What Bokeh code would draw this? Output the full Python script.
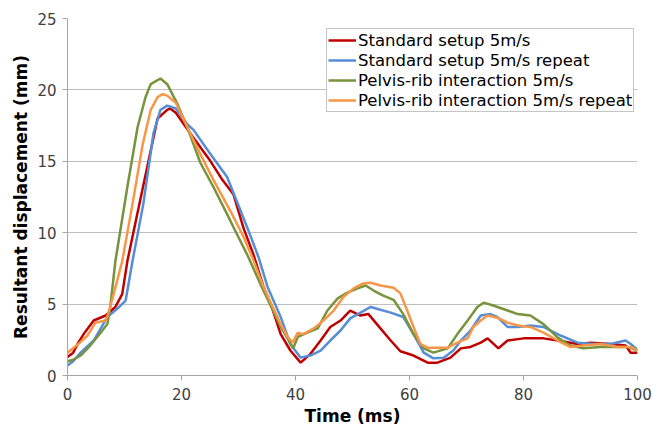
from bokeh.plotting import figure
from bokeh.models import Range1d, Legend, LegendItem, FixedTicker
from bokeh.embed import file_html
from bokeh.resources import INLINE

# ---- data ----
red_t = [0, 1, 1.9, 3, 4.6, 6.7, 8.4, 9.6, 10.5, 12.5, 14.2, 15.8, 17.5, 18, 19, 22, 25.1, 27, 29.1, 30.9,
         32.6, 34.4, 36, 37.4, 39.1, 40.9, 42.6, 44.4, 46.1, 47.9, 49.6, 51.4, 52.8, 54.9, 56.7, 58.4, 60.7,
         63.2, 64.9, 67.2, 69, 70.7, 72.5, 73.7, 75.6, 77.2, 80, 83.5, 86, 89.5, 91.8, 95.3, 97.9, 98.8, 100]
red_y = [1.3, 1.6, 2.3, 3.0, 3.85, 4.2, 4.8, 5.7, 8, 11.8, 15, 18, 18.6, 18.7, 18.4, 16.7, 15.0, 13.8, 12.7, 10.3,
         8.5, 6.2, 4.6, 2.9, 1.75, 0.9, 1.5, 2.45, 3.4, 3.85, 4.55, 4.2, 4.3, 3.3, 2.45, 1.7, 1.4,
         0.9, 0.9, 1.25, 1.9, 2.0, 2.3, 2.6, 1.9, 2.45, 2.6, 2.6, 2.45, 2.2, 2.3, 2.2, 2.1, 1.6, 1.6]

blue_t = [0, 1, 2.3, 4.6, 7, 8.8, 10.2, 11.4, 13.3, 15.1, 16.3, 17.5, 19, 21, 22.1, 25.1, 28, 30.4, 31.6, 33.5,
          35.1, 37.4, 39.1, 40.9, 42.6, 44.4, 46.1, 47.9, 49.6, 51.4, 53.2, 54.9, 56.7, 58.9, 60.7, 62.5, 64.2,
          66, 67.7, 69, 70.7, 72.5, 74.2, 75.4, 77.2, 79, 81.2, 83.5, 86.5, 89.5, 92.3, 95.3, 97.9, 98.8, 100]
blue_y = [0.7, 1.0, 1.6, 2.45, 4.1, 4.7, 5.25, 8, 12, 17, 18.6, 18.9, 18.7, 17.6, 17.2, 15.5, 13.9, 11.5, 10.3, 8.3,
          6.2, 4.1, 2.2, 1.25, 1.4, 1.75, 2.45, 3.15, 4.0, 4.4, 4.8, 4.6, 4.4, 4.1, 2.9, 1.6, 1.2,
          1.25, 1.75, 2.45, 3.15, 4.2, 4.3, 4.1, 3.4, 3.4, 3.5, 3.4, 2.8, 2.3, 2.2, 2.2, 2.45, 2.2, 1.8]

green_t = [0, 1, 2.3, 4, 5.8, 7, 7.5, 8.4, 10.5, 12.3, 13.7, 14.6, 16.3, 17.5, 19.3, 21, 23.3, 25.6, 28, 29.1,
           31.6, 34.2, 36, 37.4, 38.6, 39.6, 40.4, 42.1, 43.9, 45.6, 47.4, 49.1, 50.9, 52.3, 53.7, 55.4, 57.2,
           58.9, 60.7, 62.5, 64.2, 66.7, 68.4, 70.2, 71.9, 73, 74.7, 77.2, 79, 81.2, 83.5, 86, 88.2, 90.5, 93.5,
           96.5, 98.2, 100]
green_y = [1.0, 1.1, 1.4, 2.1, 3.0, 3.6, 4.8, 8, 13.2, 17.4, 19.5, 20.4, 20.8, 20.4, 19, 17.4, 14.9, 13.2, 11.3, 10.4,
           8.4, 6.1, 4.6, 3.4, 2.6, 1.9, 2.7, 3.0, 3.3, 4.55, 5.4, 5.8, 6.1, 6.3, 5.95, 5.6, 5.3,
           4.3, 2.9, 1.9, 1.6, 1.9, 2.9, 3.85, 4.8, 5.1, 4.9, 4.55, 4.3, 4.2, 3.6, 2.65, 2.1, 1.9, 2.0,
           2.0, 2.0, 1.75]

orange_t = [0, 1.9, 3.5, 4.9, 6.7, 7.2, 8.1, 9.6, 11.4, 13.2, 14.6, 15.8, 16.7, 17.5, 19, 21, 23.3, 25.6, 28.6,
            30.9, 32.6, 34.4, 36, 37.4, 38.6, 39.5, 40.4, 41.4, 43.2, 44.9, 46.7, 48.4, 50.2, 51.9, 53.2, 54.9,
            57.2, 58.4, 59.6, 60.7, 61.9, 63.2, 64.9, 66.7, 68.4, 70.2, 71.2, 72.5, 73.7, 75.4, 77.2, 79, 81.2,
            83.5, 86, 88.2, 90.5, 93.5, 96.5, 98.8, 100]
orange_y = [1.6, 2.2, 2.8, 3.7, 3.85, 4.4, 5.7, 8, 12, 16.2, 18.6, 19.5, 19.7, 19.6, 19.1, 17.4, 15.5, 13.7, 11.5,
            9.7, 8.1, 6.2, 4.8, 3.6, 2.7, 2.3, 3.0, 2.9, 3.3, 3.85, 4.55, 5.5, 6.1, 6.45, 6.5, 6.3,
            6.15, 5.75, 4.55, 3.4, 2.2, 1.95, 1.95, 1.95, 2.3, 2.6, 3.4, 3.85, 4.2, 4.05, 3.7, 3.5, 3.4,
            3.0, 2.45, 2.0, 2.1, 2.2, 2.0, 2.0, 1.75]

series_names = ["Standard setup 5m/s", "Standard setup 5m/s repeat",
                "Pelvis-rib interaction 5m/s", "Pelvis-rib interaction 5m/s repeat"]
x_ticks = [0, 20, 40, 60, 80, 100]
y_ticks = [0, 5, 10, 15, 20, 25]

colors = ["#C00000", "#558ED5", "#77933C", "#F79646"]
FONT = "DejaVu Sans"

p = figure(frame_width=570, frame_height=357, output_backend="svg", toolbar_location=None,
           x_range=Range1d(0, 100), y_range=Range1d(0, 25))
p.min_border_left = 67
p.min_border_right = 15
p.min_border_top = 18
p.min_border_bottom = 57
p.outline_line_color = None
p.background_fill_color = "white"
p.border_fill_color = "white"

p.xgrid.grid_line_color = None
p.ygrid.grid_line_color = "#BFBFBF"
p.ygrid.grid_line_width = 1

p.xaxis.ticker = FixedTicker(ticks=x_ticks)
p.yaxis.ticker = FixedTicker(ticks=y_ticks)
for ax in (p.xaxis, p.yaxis):
    ax.axis_line_color = "#A6A6A6"
    ax.major_tick_line_color = "#A6A6A6"
    ax.major_tick_out = 5
    ax.major_tick_in = 0
    ax.minor_tick_line_color = None
    ax.major_label_text_font = FONT
    ax.major_label_text_font_size = "15px"
    ax.major_label_text_color = "#404040"
    ax.axis_label_text_font = FONT
    ax.axis_label_text_font_size = "17px"
    ax.axis_label_text_font_style = "bold"
    ax.axis_label_text_color = "black"
p.xaxis.axis_label = "Time (ms)"
p.yaxis.axis_label = "Resultant displacement (mm)"
p.xaxis.major_label_standoff = 7
p.yaxis.major_label_standoff = 6
p.xaxis.axis_label_standoff = 3
p.yaxis.axis_label_standoff = 3

items = []
for t, y, c, name in zip([red_t, blue_t, green_t, orange_t], [red_y, blue_y, green_y, orange_y],
                         colors, series_names):
    r = p.line(t, y, line_color=c, line_width=2.5)
    items.append(LegendItem(label=name, renderers=[r]))

legend = Legend(items=items, location=(259, 263))
legend.label_text_font = FONT
legend.label_text_font_size = "16.5px"
legend.label_text_color = "black"
legend.glyph_width = 28
legend.glyph_height = 20
legend.label_height = 20
legend.label_standoff = 2
legend.spacing = 0
legend.padding = 1
legend.margin = 0
legend.border_line_color = "#8C8C8C"
legend.border_line_width = 1
legend.background_fill_alpha = 1
p.add_layout(legend)

open("out.html", "w").write(file_html(p, INLINE))
